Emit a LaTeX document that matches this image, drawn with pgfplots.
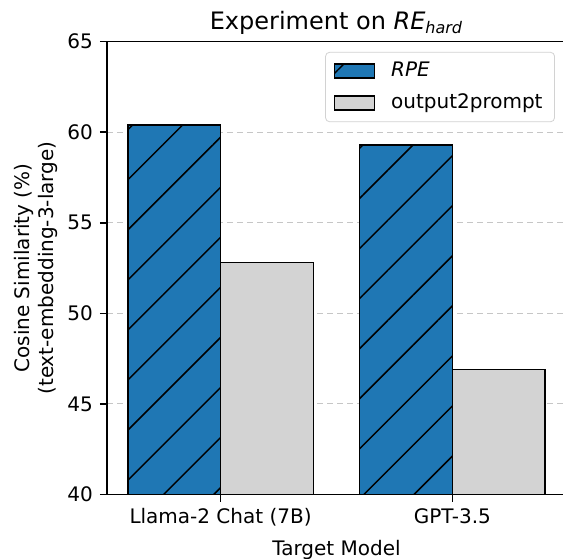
\documentclass[border=0pt]{standalone}
\usepackage{fontspec}
\setmainfont{DejaVu Sans}
\usepackage{pgfplots}
\pgfplotsset{compat=1.18}
\usetikzlibrary{patterns.meta}
\definecolor{mplblue}{HTML}{1F77B4}
\definecolor{mplgray}{HTML}{D3D3D3}
\begin{document}
\begin{tikzpicture}
\begin{axis}[
  at={(0,0)}, anchor=south west,
  scale only axis, width=229.5pt, height=226.5pt,
  ybar, bar width=0.4,
  xmin=-0.49, xmax=1.49, ymin=40, ymax=65,
  xtick={0,1}, xticklabels={Llama-2 Chat (7B), GPT-3.5},
  ytick={40,45,...,65},
  /pgf/number format/assume math mode=true,
  ticklabel style={font=\fontsize{10}{12}\selectfont},
  ymajorgrids, grid style={gray!45, line width=0.5pt, dash pattern=on 3pt off 2pt},
  tick align=outside, major tick length=3.5pt,
  tick style={black, line width=0.8pt},
  xtick pos=bottom, ytick pos=left,
  axis line style={line width=0.8pt},
  title={Experiment on \textit{RE}\textsubscript{\textit{hard}}},
  title style={at={(0.5,1)}, anchor=base, yshift=0pt, font=\fontsize{12}{14}\selectfont},
  xlabel={Target Model},
  ylabel={Cosine Similarity (\%)\\(text-embedding-3-large)},
  ylabel style={align=center, font=\fontsize{10}{12}\selectfont, yshift=-2pt},
  xlabel style={font=\fontsize{10}{12}\selectfont},
  legend cell align=left,
  legend style={at={(0.976,0.977)}, anchor=north east, draw=gray!35,
    rounded corners=2pt, font=\fontsize{10}{12}\selectfont,
    row sep=3pt, inner xsep=4pt, inner ysep=3pt,
    /tikz/every odd column/.append style={column sep=6pt}},
  legend image code/.code={\draw[#1, sharp corners] (0pt,-3.5pt) rectangle (20pt,3.5pt);},
]
\addplot[bar shift=-0.2, fill=mplblue, draw=black, line width=0.8pt,
  postaction={pattern={Lines[angle=45,distance=17.7pt,line width=0.75pt]}, pattern color=black}]
  coordinates {(0,60.4) (1,59.3)};
\addlegendentry{\textit{RPE}}
\addplot[bar shift=0.2, fill=mplgray, draw=black, line width=0.8pt]
  coordinates {(0,52.8) (1,46.9)};
\addlegendentry{output2prompt}
\end{axis}
\pgfresetboundingbox
\useasboundingbox (-53.5pt,-31.75pt) rectangle (228pt,247.25pt);
\end{tikzpicture}
\end{document}
